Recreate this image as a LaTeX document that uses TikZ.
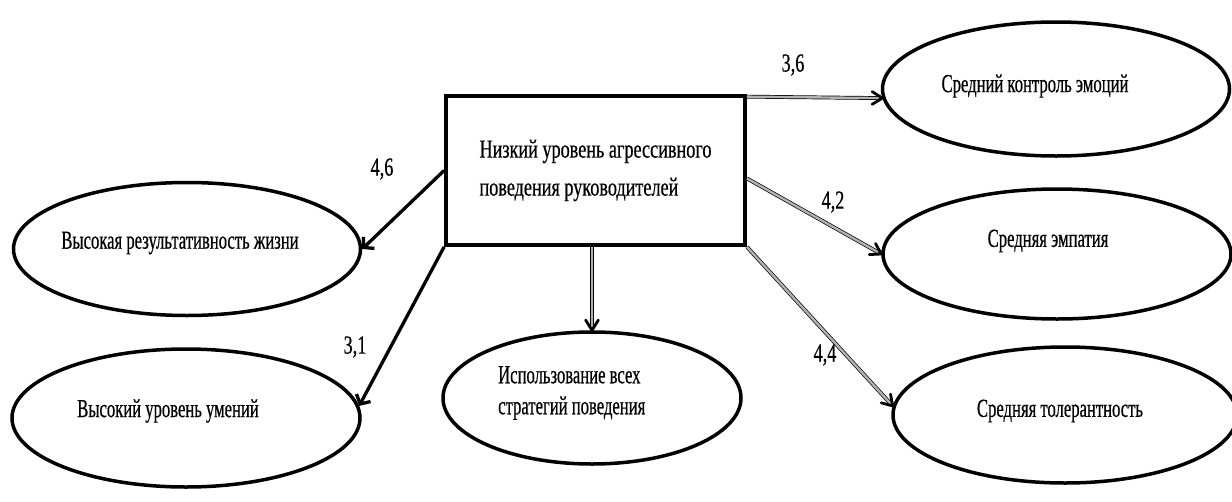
\documentclass[tikz,border=0pt]{standalone}
\usepackage{fontspec}
\setmainfont{Liberation Serif}
\newfontfamily\boxserif[FakeStretch=0.7, FakeBold=0.5]{Liberation Serif}
\newfontfamily\narrowserif[FakeStretch=0.64, FakeBold=0.5]{Liberation Serif}
\usetikzlibrary{shapes.geometric, calc, arrows.meta}

% double connector finished with an open barb at its end
\newcommand\dblarrow[2]{%
  \draw[dbl, shorten >=1.5pt] (#1) -- (#2);
  \draw[barb] ($(#2)!12pt!32:(#1)$) -- (#2) -- ($(#2)!12pt!-32:(#1)$);}

\begin{document}
\begin{tikzpicture}[x=1pt, y=-1pt,
  txt/.style={font=\narrowserif\fontsize{26}{31}\selectfont, inner sep=0pt},
  oval/.style={ellipse, draw, line width=3.5pt, inner sep=0pt},
  dbl/.style={draw=black, line width=0.7pt, double=gray!60, double distance=2.4pt},
  solidarrow/.style={line width=3.3pt, -{Straight Barb[length=7pt, width=16pt]}},
  barb/.style={line width=2.8pt, line cap=round, line join=round},
  lbl/.style={font=\boxserif\fontsize{26}{31}\selectfont, inner sep=0pt}
]
\useasboundingbox (0,0) rectangle (1232,501);

% central box
\node[draw, line width=3.8pt, minimum width=299pt, minimum height=149pt,
      align=left, inner sep=0pt,
      font=\boxserif\fontsize{26}{38}\selectfont] (box) at (595.5,170.5)
  {Низкий уровень агрессивного\\поведения руководителей};

% outcome ellipses
\node[oval, minimum width=347pt, minimum height=134pt] (e1) at (1056,89) {};
\node[oval, minimum width=348pt, minimum height=130pt] (e2) at (1057,254) {};
\node[oval, minimum width=344pt, minimum height=136pt] (e3) at (1065,415) {};
\node[oval, minimum width=347pt, minimum height=133pt] (e4) at (187,249) {};
\node[oval, minimum width=348pt, minimum height=138pt] (e5) at (186,418) {};
\node[oval, minimum width=298pt, minimum height=132pt] (e6) at (592,398) {};

% texts inside the ellipses
\node[txt] (t1) at (1035,86) {Средний контроль эмоций};
\node[txt] (t2) at (1048,241) {Средняя эмпатия};
\node[txt] (t3) at (1060,411) {Средняя толерантность};
\node[txt] (t4) at (180,243) {Высокая результативность жизни};
\node[txt] (t5) at (168,411) {Высокий уровень умений};
\node[txt, align=left, anchor=west] (t6) at (498,393)
  {Использование всех\\стратегий поведения};

% connectors
\dblarrow{box.26}{e1.183}
\dblarrow{box.357}{e2.west}
\dblarrow{box.south east}{e3.177}
\dblarrow{box.south -| e6.north}{e6.north}
\draw[solidarrow] (box.west) -- (e4.east);
\draw[solidarrow] (box.south west) -- (e5.4);

% connector weights
\node[lbl] (w1) at (793,65) {3,6};
\node[lbl] (w2) at (833,202) {4,2};
\node[lbl] (w3) at (825,355) {4,4};
\node[lbl] (w4) at (382,169) {4,6};
\node[lbl] (w5) at (355,347) {3,1};
\end{tikzpicture}
\end{document}
